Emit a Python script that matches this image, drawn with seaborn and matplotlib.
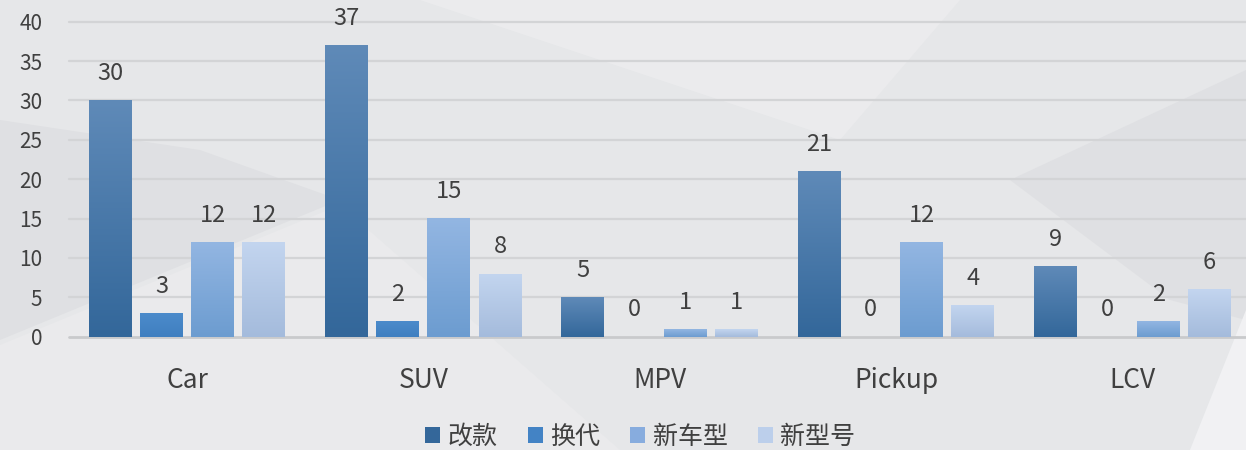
import numpy as np
import pandas as pd
import matplotlib
matplotlib.use("Agg")
import matplotlib.pyplot as plt
from matplotlib.patches import Polygon, Patch
from matplotlib.colors import LinearSegmentedColormap
import seaborn as sns

# ---- data ----
categories = ["Car", "SUV", "MPV", "Pickup", "LCV"]
series_names = ["改款", "换代", "新车型", "新型号"]
v_gaikuan = [30, 37, 5, 21, 9]
v_huandai = [3, 2, 0, 0, 0]
v_xinchexing = [12, 15, 1, 12, 2]
v_xinxinghao = [12, 8, 1, 4, 6]
y_ticks = [0, 5, 10, 15, 20, 25, 30, 35, 40]

legend_colors = ["#34679a", "#4383c5", "#87acde", "#bccfeb"]
grad_top = ["#5f8ab8", "#4c8bcb", "#93b6e2", "#c3d5ef"]
grad_bot = ["#33679a", "#3f7fc0", "#6c9cd0", "#a4bbdc"]

rows = []
for name, vals in zip(series_names, [v_gaikuan, v_huandai, v_xinchexing, v_xinxinghao]):
    for c, v in zip(categories, vals):
        rows.append({"cat": c, "series": name, "value": v})
df = pd.DataFrame(rows)

sns.set_theme(style="white")
plt.rcParams["font.family"] = ["Noto Sans CJK SC", "DejaVu Sans"]
text_color = "#404040"

W, H = 1246, 450
fig = plt.figure(figsize=(W / 100, H / 100), dpi=100)
fig.patch.set_facecolor("#e6e7e9")

# ---- decorative background shapes (pixel coords -> figure fraction) ----
def fpoly(pts, color, alpha=1.0):
    p = Polygon([(x / W, 1 - y / H) for x, y in pts], closed=True,
                transform=fig.transFigure, facecolor=color, edgecolor="none",
                alpha=alpha, zorder=-10)
    fig.patches.append(p)

fpoly([(0, 120), (200, 150), (340, 200), (0, 340)], "#dfe0e3")
fpoly([(0, 345), (340, 205), (620, 450), (0, 450)], "#eaeaec")
fpoly([(420, 0), (960, 0), (840, 140)], "#ebebed")
fpoly([(1010, 180), (1246, 70), (1246, 320), (1170, 300)], "#dfe0e3")
fpoly([(1246, 310), (1246, 450), (1190, 450)], "#f1f1f3")

# ---- axes ----
left_px, right_px = 68.8, 1250.7
base_px, top40_px = 336.7, 21.7
ymax = 40.6
px_per_unit = (base_px - top40_px) / 40
ax = fig.add_axes([left_px / W, (H - base_px) / H, (right_px - left_px) / W,
                   px_per_unit * ymax / H])
ax.set_facecolor("none")

sns.barplot(data=df, x="cat", y="value", hue="series", order=categories,
            hue_order=series_names, palette=legend_colors, width=0.866,
            gap=0.16, ax=ax, legend=False, edgecolor="none", linewidth=0,
            saturation=1)

ax.set_ylim(0, ymax)
ax.set_xlim(-0.5, len(categories) - 0.5)
ax.set_yticks(y_ticks)
for y in y_ticks:
    ax.axhline(y, color="#d3d4d6" if y else "#c9cacc", lw=1.6 if y else 2.0,
               zorder=0.5, clip_on=False)

# gradient fill for each bar
for i, cont in enumerate(ax.containers):
    cmap = LinearSegmentedColormap.from_list(f"g{i}", [grad_bot[i], grad_top[i]])
    for bar in cont:
        h = bar.get_height()
        if h <= 0:
            continue
        x0 = bar.get_x()
        w = bar.get_width()
        grad = np.linspace(0, 1, 256).reshape(-1, 1)
        ax.imshow(grad, extent=[x0, x0 + w, 0, h], origin="lower",
                  cmap=cmap, aspect="auto", zorder=2, interpolation="bilinear")
    ax.bar_label(cont, padding=11, fontsize=17, color=text_color)

ax.set_ylim(0, ymax)
ax.set_xlim(-0.5, len(categories) - 0.5)

for s in ax.spines.values():
    s.set_visible(False)
ax.set_xlabel("")
ax.set_ylabel("")
ax.tick_params(axis="y", length=0, pad=19, labelsize=15, labelcolor=text_color)
ax.tick_params(axis="x", length=0, pad=22, labelsize=19, labelcolor=text_color)
ax.grid(False)

handles = [Patch(facecolor=c, edgecolor="none") for c in legend_colors]
fig.legend(handles, series_names, loc="lower center", ncol=4,
           bbox_to_anchor=(0.514, -0.05), frameon=False, fontsize=18,
           handlelength=0.6, handleheight=0.6, handletextpad=0.3,
           columnspacing=1.2, labelcolor=text_color)

fig.savefig("out.png", dpi=100, facecolor=fig.get_facecolor())
